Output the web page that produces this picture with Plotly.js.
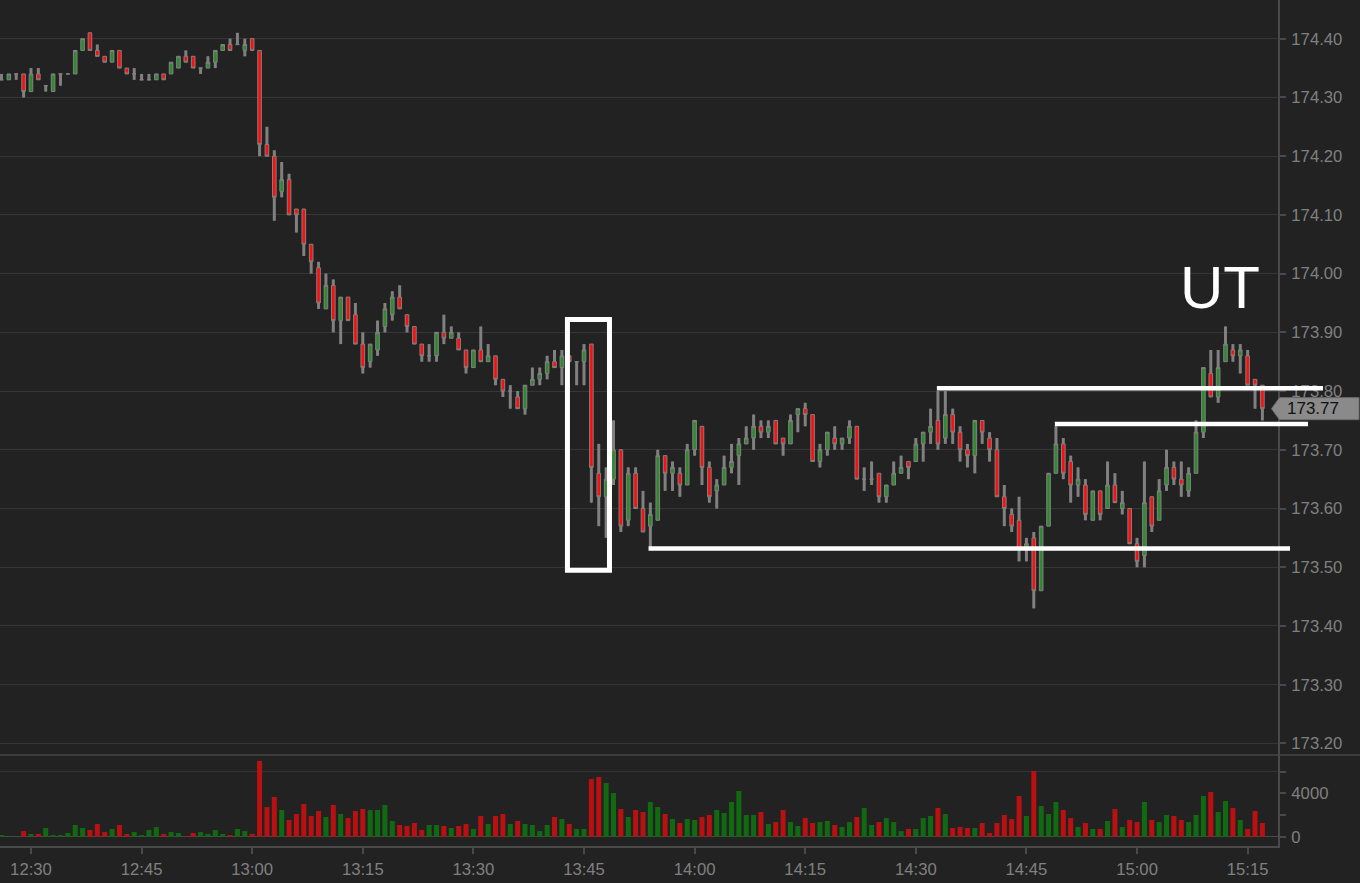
<!DOCTYPE html>
<html>
<head>
<meta charset="utf-8">
<script src="https://cdn.plot.ly/plotly-3.0.1.min.js"></script>
<style>
  html, body { margin: 0; padding: 0; background: #222222; }
  #chart { width: 1360px; height: 883px; }
</style>
</head>
<body>
<div id="chart"></div>
<script>
// ---------- data (1-minute bars, first bar 12:26, last bar 15:17) ----------
var DAY = '2024-03-15';
var firstBar = '12:26';

var opens = [
  174.33,174.33,174.34,174.34,174.31,174.34,174.32,174.31,174.34,174.34,
  174.34,174.38,174.41,174.38,174.37,174.36,174.38,174.35,174.34,174.33,
  174.33,174.33,174.34,174.34,174.35,174.37,174.37,174.35,174.35,174.36,
  174.38,174.39,174.39,174.38,174.40,174.38,174.22,174.20,174.14,174.16,
  174.11,174.11,174.05,174.01,173.94,173.98,173.92,173.96,173.93,173.88,
  173.85,173.87,173.91,173.93,173.96,173.93,173.91,173.88,173.86,173.86,
  173.90,173.89,173.89,173.87,173.84,173.87,173.85,173.86,173.82,173.80,
  173.79,173.77,173.81,173.82,173.83,173.85,173.84,173.86,173.85,173.85,
  173.88,173.66,173.62,173.65,173.70,173.58,173.66,173.60,173.57,173.58,
  173.69,173.66,173.66,173.64,173.70,173.74,173.67,173.63,173.64,173.67,
  173.69,173.71,173.72,173.74,173.73,173.75,173.72,173.71,173.76,173.77,
  173.76,173.68,173.70,173.72,173.71,173.72,173.74,173.65,173.65,173.66,
  173.62,173.64,173.66,173.68,173.68,173.71,173.73,173.75,173.72,173.76,
  173.73,173.70,173.69,173.75,173.72,173.70,173.62,173.59,173.58,173.53,
  173.55,173.46,173.57,173.66,173.71,173.68,173.64,173.64,173.58,173.63,
  173.60,173.64,173.60,173.60,173.54,173.52,173.62,173.58,173.64,173.67,
  173.65,173.63,173.66,173.73,173.83,173.79,173.85,173.87,173.86,173.86,
  173.82,173.81
];
var highs = [
  174.34,174.34,174.34,174.34,174.35,174.35,174.32,174.34,174.34,174.34,
  174.38,174.40,174.41,174.39,174.37,174.38,174.38,174.35,174.35,174.34,
  174.34,174.34,174.34,174.36,174.37,174.38,174.37,174.35,174.37,174.38,
  174.39,174.40,174.41,174.40,174.40,174.38,174.25,174.21,174.19,174.17,
  174.11,174.11,174.05,174.02,174.00,173.99,173.96,173.96,173.95,173.90,
  173.88,173.92,173.95,173.97,173.98,173.93,173.91,173.88,173.88,173.90,
  173.93,173.91,173.90,173.87,173.87,173.91,173.88,173.86,173.82,173.81,
  173.80,173.81,173.84,173.84,173.86,173.87,173.87,173.86,173.85,173.88,
  173.88,173.71,173.67,173.75,173.70,173.67,173.67,173.63,173.61,173.70,
  173.69,173.68,173.67,173.71,173.75,173.74,173.68,173.65,173.69,173.71,
  173.72,173.74,173.76,173.75,173.75,173.75,173.72,173.76,173.77,173.78,
  173.76,173.71,173.73,173.74,173.72,173.75,173.74,173.67,173.68,173.66,
  173.64,173.68,173.69,173.68,173.72,173.73,173.77,173.80,173.80,173.77,
  173.74,173.71,173.75,173.75,173.73,173.72,173.64,173.60,173.62,173.55,
  173.56,173.57,173.66,173.74,173.72,173.69,173.67,173.65,173.63,173.63,
  173.68,173.66,173.63,173.60,173.55,173.68,173.62,173.65,173.70,173.68,
  173.68,173.67,173.75,173.84,173.87,173.87,173.91,173.88,173.88,173.87,
  173.82,173.81
];
var lows = [
  174.33,174.33,174.33,174.30,174.31,174.33,174.31,174.31,174.32,174.34,
  174.34,174.38,174.38,174.37,174.36,174.36,174.35,174.34,174.33,174.33,
  174.33,174.33,174.33,174.34,174.35,174.36,174.35,174.34,174.35,174.35,
  174.38,174.38,174.39,174.37,174.38,174.20,174.20,174.09,174.13,174.10,
  174.07,174.03,174.00,173.94,173.94,173.90,173.88,173.92,173.88,173.83,
  173.84,173.86,173.90,173.92,173.94,173.90,173.88,173.85,173.85,173.85,
  173.88,173.89,173.87,173.83,173.84,173.85,173.85,173.81,173.79,173.77,
  173.77,173.76,173.81,173.81,173.82,173.84,173.81,173.85,173.81,173.81,
  173.61,173.57,173.55,173.64,173.56,173.57,173.60,173.56,173.53,173.58,
  173.63,173.63,173.62,173.64,173.69,173.64,173.61,173.60,173.64,173.66,
  173.64,173.71,173.70,173.72,173.72,173.71,173.69,173.71,173.73,173.74,
  173.68,173.67,173.69,173.70,173.70,173.71,173.65,173.63,173.64,173.61,
  173.61,173.64,173.66,173.65,173.68,173.68,173.71,173.70,173.71,173.71,
  173.68,173.67,173.66,173.71,173.68,173.62,173.57,173.56,173.51,173.51,
  173.43,173.46,173.57,173.66,173.65,173.61,173.62,173.58,173.58,173.58,
  173.60,173.61,173.59,173.54,173.50,173.50,173.56,173.58,173.63,173.64,
  173.62,173.62,173.66,173.72,173.79,173.78,173.85,173.85,173.83,173.81,
  173.77,173.75
];
var closes = [
  174.33,174.34,174.34,174.31,174.34,174.33,174.32,174.34,174.34,174.34,
  174.38,174.40,174.38,174.37,174.36,174.38,174.35,174.34,174.34,174.33,
  174.33,174.34,174.33,174.36,174.37,174.36,174.35,174.35,174.36,174.38,
  174.39,174.38,174.39,174.39,174.38,174.22,174.20,174.13,174.16,174.10,
  174.10,174.05,174.02,173.95,173.98,173.92,173.96,173.92,173.88,173.84,
  173.88,173.90,173.94,173.96,173.94,173.91,173.88,173.86,173.86,173.90,
  173.89,173.90,173.87,173.84,173.87,173.85,173.86,173.82,173.80,173.80,
  173.77,173.81,173.82,173.83,173.85,173.84,173.86,173.85,173.85,173.87,
  173.67,173.62,173.65,173.70,173.57,173.66,173.60,173.56,173.59,173.69,
  173.66,173.67,173.64,173.70,173.75,173.67,173.62,173.64,173.67,173.68,
  173.71,173.72,173.74,173.73,173.74,173.71,173.71,173.75,173.77,173.76,
  173.68,173.70,173.73,173.71,173.72,173.74,173.65,173.65,173.65,173.62,
  173.64,173.66,173.67,173.67,173.71,173.73,173.74,173.71,173.76,173.73,
  173.70,173.69,173.75,173.73,173.70,173.62,173.60,173.57,173.53,173.54,
  173.46,173.57,173.66,173.71,173.66,173.64,173.65,173.59,173.63,173.59,
  173.64,173.61,173.61,173.54,173.51,173.61,173.57,173.63,173.67,173.65,
  173.64,173.66,173.73,173.84,173.79,173.84,173.88,173.86,173.87,173.81,
  173.81,173.77
];
var volumes = [
  150,60,60,520,250,250,800,150,150,340,
  1080,800,615,1170,430,710,1080,250,430,150,
  615,890,250,430,340,60,340,430,250,615,
  250,150,710,520,250,6985,2740,3660,2460,1540,
  2090,3015,1910,2370,1815,2920,2090,1720,2370,2550,
  2460,2460,2920,1450,1080,985,1260,615,1080,1080,
  985,800,985,1170,710,1910,1170,1910,2090,1170,
  1450,1170,1080,520,1080,1815,1630,1170,710,710,
  5320,5510,4950,4030,2550,1815,2460,2280,3200,2740,
  2090,1630,1260,1630,1540,1815,2000,2460,2180,3200,
  4215,2000,2000,2280,1170,1350,2460,1350,985,1720,
  1260,1350,1450,1080,890,1350,1815,2650,1080,1350,
  1720,1350,520,710,710,1720,1910,2650,2090,800,
  890,800,800,1260,340,1260,2000,1630,3750,1910,
  6060,2830,2090,3200,2460,1720,890,1260,710,710,
  1450,2550,890,1540,1350,3200,1540,1350,2000,1910,
  1540,1350,2000,3750,4120,2280,3290,2650,1540,710,
  2370,1260
];

// price-axis ticks and the volume-axis ticks
var priceTicks = [173.20,173.30,173.40,173.50,173.60,173.70,173.80,173.90,174.00,174.10,174.20,174.30,174.40];
var volTickVals = [0, 2000, 4000, 6000];
var volTickText = ['0', '', '4000', ''];

// drawn annotations (levels in price, start bars in time)
var boxFrom = '13:42.75', boxTo = '13:48.45', boxTop = 173.922, boxBottom = 173.495;
var levelPrices = [173.532, 173.805, 173.744];
var levelStarts = ['13:53.75', '14:32.85', '14:48.85'];
var levelEndsPx = [1290, 1323, 1308];
var markText = 'UT', markTime = '15:11.3', markPrice = 173.977;

// ---------- helpers ----------
function pad(n) { return (n < 10 ? '0' : '') + n; }
function toMin(hhmm) { var p = hhmm.split(':'); return (+p[0]) * 60 + parseFloat(p[1]); }
function minToStr(m) {
  var totalSec = Math.round(m * 60);
  var h = Math.floor(totalSec / 3600), mi = Math.floor((totalSec % 3600) / 60), s = totalSec % 60;
  return DAY + ' ' + pad(h) + ':' + pad(mi) + ':' + pad(s);
}

var n = closes.length;
var startMin = toMin(firstBar);
var times = [];
for (var i = 0; i < n; i++) times.push(minToStr(startMin + i));

// plot geometry
var W = 1360, H = 883;
var M = { l: 0, r: 82, t: 0, b: 37 };
var plotW = W - M.l - M.r, plotH = H - M.t - M.b;
var volDomTop = 91 / plotH;
var priceRange = [173.1803, 174.4659];
var volRange = [-857, 7530];
var xMin0 = startMin - 0.2, xMin1 = startMin + 173.11;
var xRange = [minToStr(xMin0), minToStr(xMin1)];
var pxPerMin = plotW / (xMin1 - xMin0);

function xPaper(hhmm) { return (toMin(hhmm) - xMin0) / (xMin1 - xMin0); }
function yPaper(p) { return volDomTop + (p - priceRange[0]) / (priceRange[1] - priceRange[0]) * (1 - volDomTop); }

var GREEN = '#2f8a2f', RED = '#ff0d0d', WICK = '#808080';
var VGREEN = '#116a11', VRED = '#b91111';

var wickBase = [], wickLen = [], volColors = [];
for (var k = 0; k < n; k++) {
  wickBase.push(lows[k]);
  wickLen.push(highs[k] - lows[k]);
  volColors.push(closes[k] < opens[k] ? VRED : VGREEN);
}
var msPerPx = 60000 / pxPerMin;

var traces = [
  { type: 'bar', x: times, base: wickBase, y: wickLen, width: 3 * msPerPx,
    marker: { color: WICK, line: { width: 0 } }, xaxis: 'x', yaxis: 'y', hoverinfo: 'skip', showlegend: false },
  { type: 'candlestick', x: times, open: opens, high: highs, low: lows, close: closes,
    increasing: { fillcolor: GREEN, line: { color: WICK, width: 1 } },
    decreasing: { fillcolor: RED, line: { color: WICK, width: 1 } },
    whiskerwidth: 0, xaxis: 'x', yaxis: 'y', hoverinfo: 'skip', showlegend: false },
  { type: 'bar', x: times, y: volumes, width: 5 * msPerPx,
    marker: { color: volColors, line: { width: 0 } }, xaxis: 'x', yaxis: 'y2', hoverinfo: 'skip', showlegend: false }
];

var AX = '#4a4a4a', GRID = '#363636', TXT = '#808080';
var shapes = [];
// separator between panels
shapes.push({ type: 'line', xref: 'paper', yref: 'paper', x0: 0, x1: W / plotW, y0: volDomTop, y1: volDomTop,
  line: { color: '#474747', width: 1.5 }, layer: 'above' });
// volume 6000 grid line
shapes.push({ type: 'line', xref: 'paper', yref: 'y2', x0: 0, x1: 1, y0: 6000, y1: 6000,
  line: { color: GRID, width: 1 }, layer: 'below' });
// marked box
shapes.push({ type: 'rect', xref: 'paper', yref: 'paper',
  x0: xPaper(boxFrom), x1: xPaper(boxTo), y0: yPaper(boxBottom), y1: yPaper(boxTop),
  line: { color: '#ffffff', width: 5 }, fillcolor: 'rgba(0,0,0,0)' });
// horizontal levels
for (var j = 0; j < levelPrices.length; j++) {
  shapes.push({ type: 'line', xref: 'paper', yref: 'paper',
    x0: xPaper(levelStarts[j]), x1: levelEndsPx[j] / plotW,
    y0: yPaper(levelPrices[j]), y1: yPaper(levelPrices[j]),
    line: { color: '#ffffff', width: 4.5 } });
}
// last price tag
var lastClose = closes[n - 1];
var yc = yPaper(lastClose), hh = 11 / plotH;
var tx0 = 1271.5 / plotW, tx1 = 1279.5 / plotW, tx2 = 1359 / plotW;
shapes.push({ type: 'path', xref: 'paper', yref: 'paper',
  path: 'M' + tx0 + ',' + yc + ' L' + tx1 + ',' + (yc + hh) + ' L' + tx2 + ',' + (yc + hh) +
        ' L' + tx2 + ',' + (yc - hh) + ' L' + tx1 + ',' + (yc - hh) + ' Z',
  fillcolor: '#8a8a8a', line: { color: '#6e6e6e', width: 1 } });

var annotations = [
  { xref: 'paper', yref: 'paper', x: 1313 / plotW, y: yc, text: lastClose.toFixed(2),
    showarrow: false, xanchor: 'center', yanchor: 'middle',
    font: { family: 'Liberation Sans, Arial, sans-serif', size: 17, color: '#111111' } },
  { xref: 'paper', yref: 'paper', x: xPaper(markTime), y: yPaper(markPrice), text: markText,
    showarrow: false, xanchor: 'center', yanchor: 'middle',
    font: { family: 'Liberation Sans, Arial, sans-serif', size: 60, color: '#ffffff' } }
];

var layout = {
  width: W, height: H,
  margin: { l: M.l, r: M.r, t: M.t, b: M.b, pad: 0 },
  paper_bgcolor: '#222222', plot_bgcolor: '#222222',
  font: { family: 'Liberation Sans, Arial, sans-serif', size: 16.7, color: TXT },
  showlegend: false, hovermode: false, dragmode: false,
  barmode: 'overlay',
  xaxis: {
    type: 'date', range: xRange, anchor: 'y2',
    rangeslider: { visible: false },
    tick0: DAY + ' 12:30', dtick: 15 * 60 * 1000, tickformat: '%H:%M',
    ticks: 'outside', ticklen: 6, tickwidth: 2, tickcolor: AX,
    ticklabelstandoff: 1,
    showline: true, linecolor: AX, linewidth: 2,
    showgrid: false, zeroline: false,
    tickfont: { size: 16.7, color: TXT }
  },
  yaxis: {
    domain: [volDomTop, 1], range: priceRange, side: 'right', anchor: 'x',
    tickvals: priceTicks, ticktext: priceTicks.map(function (v) { return v.toFixed(2); }),
    ticks: 'outside', ticklen: 6, tickwidth: 2, tickcolor: AX,
    ticklabelstandoff: 2,
    showline: true, linecolor: AX, linewidth: 2,
    showgrid: true, gridcolor: GRID, gridwidth: 1, zeroline: false,
    tickfont: { size: 16.7, color: TXT }
  },
  yaxis2: {
    domain: [0, volDomTop], range: volRange, side: 'right', anchor: 'x',
    tickvals: volTickVals, ticktext: volTickText,
    ticks: 'outside', ticklen: 6, tickwidth: 2, tickcolor: AX,
    ticklabelstandoff: 2,
    showline: true, linecolor: AX, linewidth: 2,
    showgrid: false, zeroline: true, zerolinecolor: AX, zerolinewidth: 1.5,
    tickfont: { size: 16.7, color: TXT }
  },
  shapes: shapes,
  annotations: annotations
};

Plotly.newPlot('chart', traces, layout, { displayModeBar: false, staticPlot: true });
</script>
</body>
</html>
